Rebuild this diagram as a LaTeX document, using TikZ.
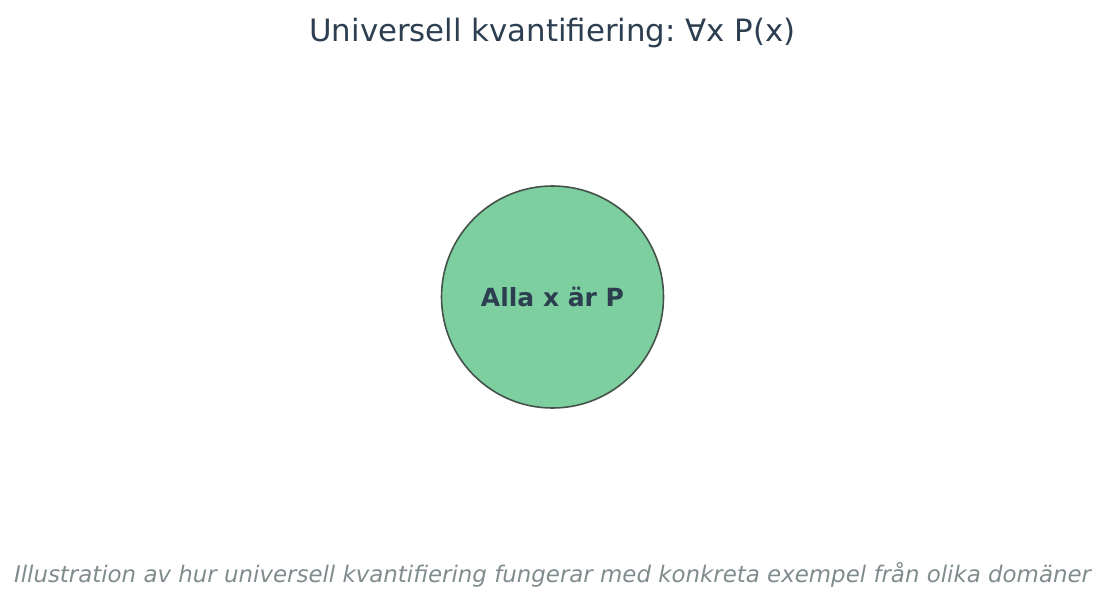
\documentclass[tikz,border=0pt]{standalone}
\usepackage{fontspec}
\setmainfont{DejaVu Sans}
\definecolor{titlec}{HTML}{2C3E50}
\definecolor{capc}{HTML}{7F8C8D}
\definecolor{fillc}{HTML}{7DCFA0}
\definecolor{edgec}{HTML}{44524A}
\tikzset{
  titlestyle/.style={text=titlec, font=\fontsize{30.8}{36}\selectfont, inner sep=0pt},
  capstyle/.style={text=capc, font=\fontsize{22.9}{27}\selectfont\itshape, inner sep=0pt},
  circstyle/.style={circle, draw=edgec, line width=1.6pt, fill=fillc, minimum size=222pt, inner sep=0pt,
    text=titlec, font=\fontsize{25}{30}\selectfont\bfseries}
}
\begin{document}
\begin{tikzpicture}[x=1pt,y=-1pt]
\useasboundingbox (0,0) rectangle (1105,607);
\node[titlestyle] (title) at (552.5,33) {Universell kvantifiering:~∀x P(x)};
\node[circstyle] (c) at (552.5,297) {Alla x är P};
\node[capstyle] (cap) at (552.5,575) {Illustration av hur universell kvantifiering fungerar med konkreta exempel från olika domäner};
\end{tikzpicture}
\end{document}
